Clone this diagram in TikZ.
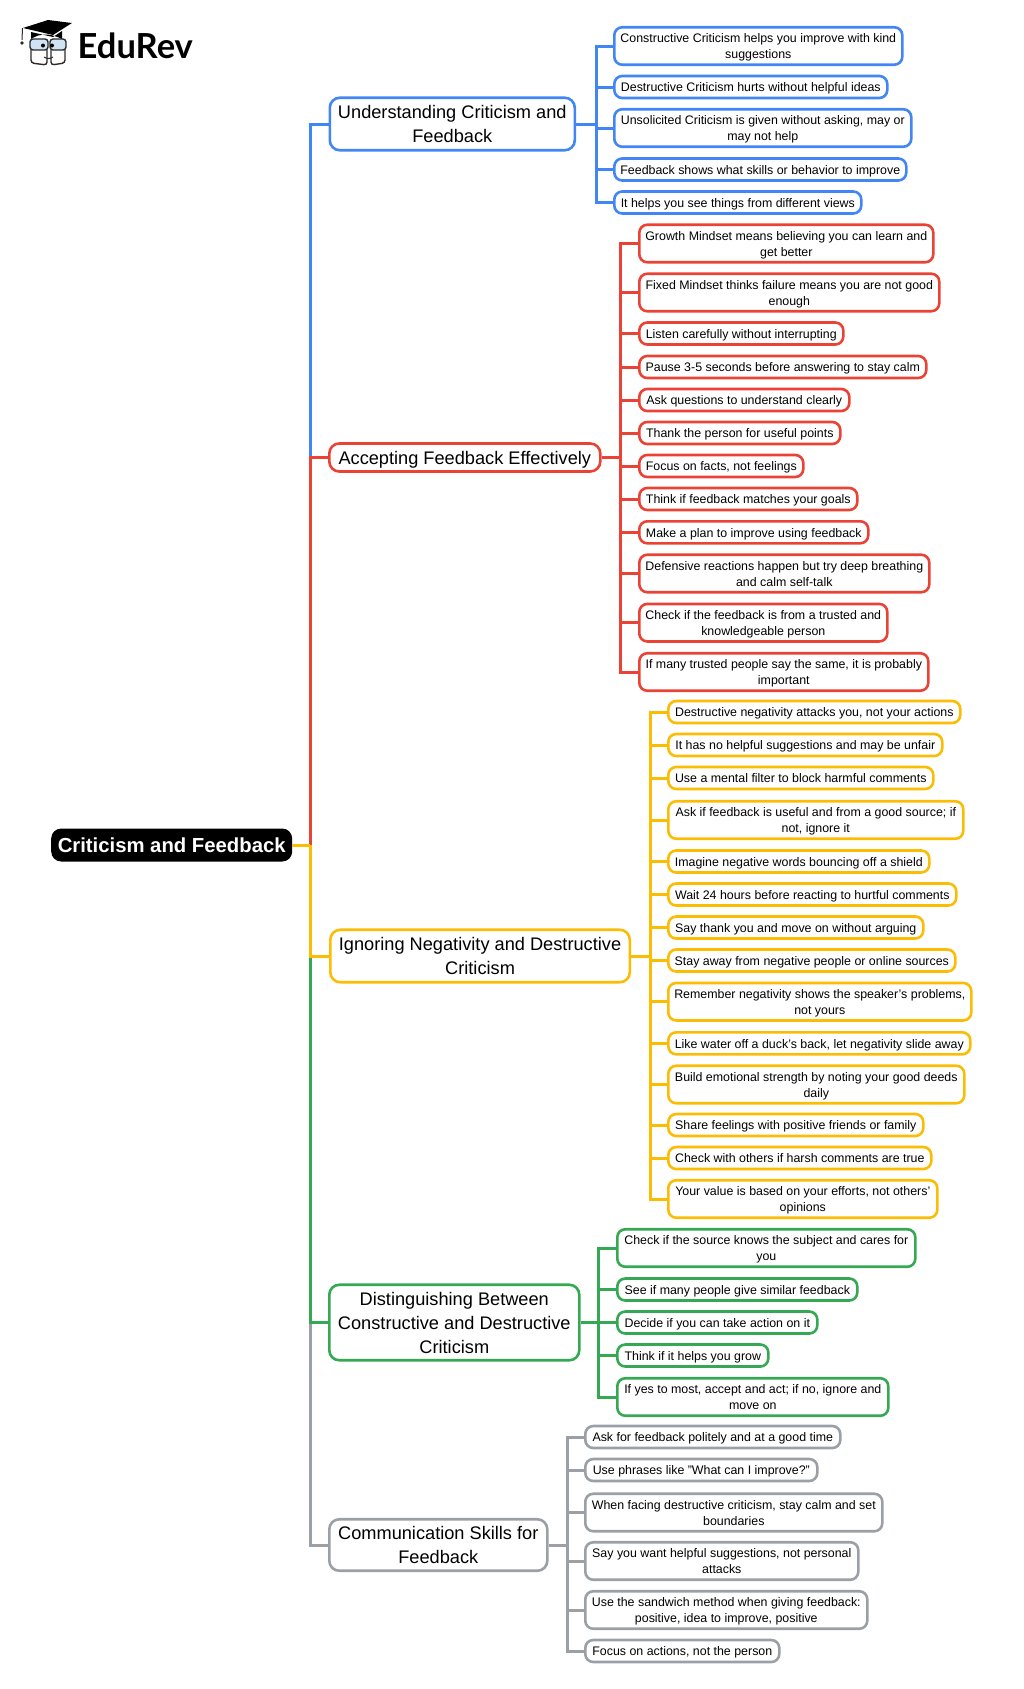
\documentclass[tikz,border=0pt]{standalone}
\usepackage{fontspec}
\setmainfont{Liberation Sans}
\newfontfamily\logofont{Lato}
\usetikzlibrary{calc}

\definecolor{bluecol}{HTML}{4285F4}
\definecolor{redcol}{HTML}{EA4335}
\definecolor{yellowcol}{HTML}{FBBC04}
\definecolor{greencol}{HTML}{34A853}
\definecolor{greycol}{HTML}{9AA0A6}
\definecolor{glasscol}{HTML}{CFE3F5}
\definecolor{facecol}{HTML}{2B2B2B}

\begin{document}
\begin{tikzpicture}[x=1pt,y=-1pt]
	
	% INPUTS
	
	\newcommand{\trunkx}{310}		% main vertical line
	\newcommand{\leaftxt}[1]{\rule{0pt}{12.7pt}#1\rule[-3.3pt]{0pt}{3.3pt}}
	\newcommand{\topictxt}[1]{\rule{0pt}{18.5pt}#1\rule[-5.5pt]{0pt}{5.5pt}}
	
	\useasboundingbox (0,0) rectangle (1024,1689);
	
	% styles
	\tikzstyle{leaf}=[rounded corners=8pt,line width=2.6pt,inner sep=0pt,anchor=west,align=center,font=\fontsize{12.4}{16}\selectfont];
	\tikzstyle{oneline}=[minimum height=22];
	\tikzstyle{twoline}=[minimum height=37.5];
	\tikzstyle{topic}=[rounded corners=10pt,line width=2.6pt,inner sep=0pt,anchor=west,align=center,font=\fontsize{18.2}{24}\selectfont];
	\tikzstyle{link}=[line width=3pt];
	
	% logo
	\draw[line width=1pt,facecol] (22.5,28) -- (22,40);
	\fill[facecol] (22,43) circle (1.8);
	\fill[black] (23,28) -- (48,20) -- (72,23) -- (53,35) -- cycle;
	\fill[black] (31,32) -- (53,37) -- (62,31) -- (62,39) .. controls (50,33) and (40,33) .. (31,39) -- cycle;
	\draw[line width=1.4pt,facecol,rounded corners=3pt] (31,50) -- (31,63) -- (47,65) -- (47,50);
	\draw[line width=1.4pt,facecol,rounded corners=3pt] (51,50) -- (51,65) -- (65,63) -- (65,50);
	\draw[line width=1.4pt,facecol,fill=glasscol,rounded corners=3pt] (30,39) rectangle (48,50);
	\draw[line width=1.4pt,facecol,fill=glasscol,rounded corners=3pt] (50,39) rectangle (66,50);
	\fill[black] (43,45.5) circle (2) (52,45.5) circle (2);
	\draw[line width=1pt,facecol] (44,57) .. controls (47,59) and (50,59) .. (53,57);
	\node[anchor=west,inner sep=0pt,font=\logofont\bfseries\fontsize{34.5}{36}\selectfont] (logo) at (77.5,46) {EduRev};
	
	% root and topics
	\node[rounded corners=10pt,fill=black,text=white,inner sep=0pt,anchor=west,minimum width=241,minimum height=33,font=\bfseries\fontsize{20.3}{24}\selectfont] (root) at (51,845) {Criticism and Feedback};
	
	\node[topic,draw=bluecol,minimum width=245,minimum height=52.5] (understanding) at (328.5,124) {\topictxt{Understanding Criticism and\\Feedback}};
	\node[topic,draw=redcol,minimum width=271,minimum height=28] (accepting) at (328,457.5) {\topictxt{Accepting Feedback Effectively}};
	\node[topic,draw=yellowcol,minimum width=299.5,minimum height=52.5] (ignoring) at (329,956) {\topictxt{Ignoring Negativity and Destructive\\Criticism}};
	\node[topic,draw=greencol,minimum width=250,minimum height=75.5] (distinguishing) at (328,1322.5) {\topictxt{Distinguishing Between\\Constructive and Destructive\\Criticism}};
	\node[topic,draw=greycol,minimum width=218,minimum height=51.5] (communication) at (328,1545) {\topictxt{Communication Skills for\\Feedback}};
	
	% main trunk, the later lines lie over the earlier ones
	\coordinate (trunk) at (\trunkx,845);
	\draw[link,bluecol] (trunk) |- (understanding.west);
	\draw[link,redcol] (trunk) |- (accepting.west);
	\draw[link,greycol] (trunk) |- (communication.west);
	\draw[link,greencol] (trunk) |- (distinguishing.west);
	\draw[link,yellowcol] (trunk) |- (ignoring.west);
	\draw[link,yellowcol] (root.east) -- (trunk);
	
	% understanding
	\newcommand{\bluex}{613}
	\coordinate (bluebus) at (596,124);
	\draw[link,bluecol] (understanding.east) -- (bluebus);
	\foreach \nm/\xr/\yc/\hh/\txt in {
		b1/902/46/twoline/{Constructive Criticism helps you improve with kind\\suggestions},
		b2/887/87/oneline/{Destructive Criticism hurts without helpful ideas},
		b3/911/128/twoline/{Unsolicited Criticism is given without asking, may or\\may not help},
		b4/906/169.5/oneline/{Feedback shows what skills or behavior to improve},
		b5/861/202.5/oneline/{It helps you see things from different views}}
	{
		\node[leaf,\hh,draw=bluecol,minimum width=\xr-\bluex-1] (\nm) at (\bluex,\yc) {\leaftxt{\txt}};
		\draw[link,bluecol] (bluebus) |- (\nm.west);
	}
	
	% accepting
	\newcommand{\redx}{638}
	\coordinate (redbus) at (620,457.5);
	\draw[link,redcol] (accepting.east) -- (redbus);
	\foreach \nm/\xr/\yc/\hh/\txt in {
		r1/933/243.5/twoline/{Growth Mindset means believing you can learn and\\get better},
		r2/939/292.5/twoline/{Fixed Mindset thinks failure means you are not good\\enough},
		r3/843/333.5/oneline/{Listen carefully without interrupting},
		r4/926/367/oneline/{Pause 3-5 seconds before answering to stay calm},
		r5/849/400/oneline/{Ask questions to understand clearly},
		r6/840/433/oneline/{Thank the person for useful points},
		r7/803/466/oneline/{Focus on facts, not feelings},
		r8/857/499/oneline/{Think if feedback matches your goals},
		r9/868/532.3/oneline/{Make a plan to improve using feedback},
		r10/929/573.5/twoline/{Defensive reactions happen but try deep breathing\\and calm self-talk},
		r11/887/622.7/twoline/{Check if the feedback is from a trusted and\\knowledgeable person},
		r12/928/672/twoline/{If many trusted people say the same, it is probably\\important}}
	{
		\node[leaf,\hh,draw=redcol,minimum width=\xr-\redx-1] (\nm) at (\redx,\yc) {\leaftxt{\txt}};
		\draw[link,redcol] (redbus) |- (\nm.west);
	}
	
	% ignoring
	\newcommand{\yellowx}{667}
	\coordinate (yellowbus) at (650,956);
	\draw[link,yellowcol] (ignoring.east) -- (yellowbus);
	\foreach \nm/\xr/\yc/\hh/\txt in {
		y1/960/712/oneline/{Destructive negativity attacks you, not your actions},
		y2/942/745/oneline/{It has no helpful suggestions and may be unfair},
		y3/933/778/oneline/{Use a mental filter to block harmful comments},
		y4/963/820/twoline/{Ask if feedback is useful and from a good source; if\\not, ignore it},
		y5/929/861.5/oneline/{Imagine negative words bouncing off a shield},
		y6/956/894.5/oneline/{Wait 24 hours before reacting to hurtful comments},
		y7/923/927.5/oneline/{Say thank you and move on without arguing},
		y8/955/960.5/oneline/{Stay away from negative people or online sources},
		y9/971/1001.7/twoline/{Remember negativity shows the speaker's problems,\\not yours},
		y10/970/1043.3/oneline/{Like water off a duck's back, let negativity slide away},
		y11/964/1084.5/twoline/{Build emotional strength by noting your good deeds\\daily},
		y12/923/1125/oneline/{Share feelings with positive friends or family},
		y13/931/1158/oneline/{Check with others if harsh comments are true},
		y14/937/1199/twoline/{Your value is based on your efforts, not others'\\opinions}}
	{
		\node[leaf,\hh,draw=yellowcol,minimum width=\xr-\yellowx-1] (\nm) at (\yellowx,\yc) {\leaftxt{\txt}};
		\draw[link,yellowcol] (yellowbus) |- (\nm.west);
	}
	
	% distinguishing
	\newcommand{\greenx}{616}
	\coordinate (greenbus) at (598,1322.5);
	\draw[link,greencol] (distinguishing.east) -- (greenbus);
	\foreach \nm/\xr/\yc/\hh/\txt in {
		g1/915/1248/twoline/{Check if the source knows the subject and cares for\\you},
		g2/857/1289.5/oneline/{See if many people give similar feedback},
		g3/817/1322.5/oneline/{Decide if you can take action on it},
		g4/768/1355.5/oneline/{Think if it helps you grow},
		g5/888/1397/twoline/{If yes to most, accept and act; if no, ignore and\\move on}}
	{
		\node[leaf,\hh,draw=greencol,minimum width=\xr-\greenx-1] (\nm) at (\greenx,\yc) {\leaftxt{\txt}};
		\draw[link,greencol] (greenbus) |- (\nm.west);
	}
	
	% communication
	\newcommand{\greyx}{584}
	\coordinate (greybus) at (567,1545);
	\draw[link,greycol] (communication.east) -- (greybus);
	\foreach \nm/\xr/\yc/\hh/\txt in {
		c1/840/1437/oneline/{Ask for feedback politely and at a good time},
		c2/817/1470/oneline/{Use phrases like "What can I improve?"},
		c3/882/1512.5/twoline/{When facing destructive criticism, stay calm and set\\boundaries},
		c4/858/1561/twoline/{Say you want helpful suggestions, not personal\\attacks},
		c5/867/1610/twoline/{Use the sandwich method when giving feedback:\\positive, idea to improve, positive},
		c6/779/1651/oneline/{Focus on actions, not the person}}
	{
		\node[leaf,\hh,draw=greycol,minimum width=\xr-\greyx-1] (\nm) at (\greyx,\yc) {\leaftxt{\txt}};
		\draw[link,greycol] (greybus) |- (\nm.west);
	}
	
\end{tikzpicture}
\end{document}
